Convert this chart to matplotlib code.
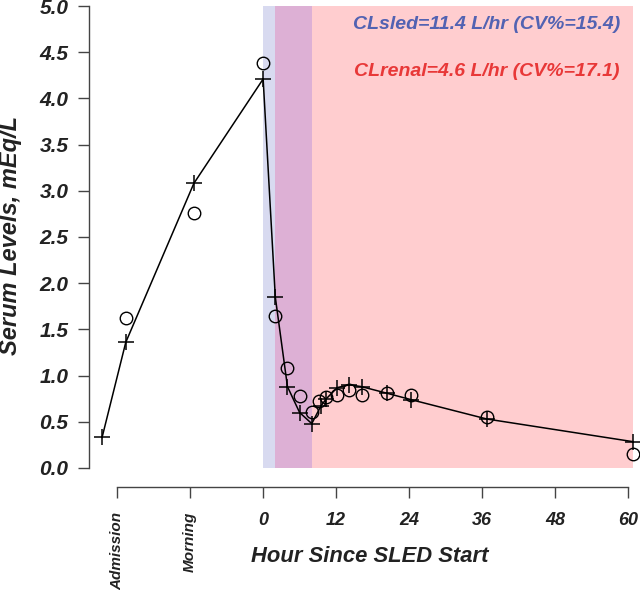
import matplotlib
matplotlib.use("Agg")
import matplotlib.pyplot as plt

# ---- data ----
pred_hours = [-26.5, -22.6, -11.4, 0, 2, 4, 6, 8, 9.5, 10.4, 12.2, 14.2, 16.2, 20.3, 24.3, 36.8, 60.8]
pred_vals = [0.33, 1.36, 3.08, 4.21, 1.85, 0.88, 0.60, 0.48, 0.67, 0.75, 0.87, 0.90, 0.88, 0.81, 0.74, 0.53, 0.285]
obs_hours = [-22.6, -11.4, 0, 2, 4, 6, 8, 9.2, 10.3, 12.2, 14.2, 16.2, 20.3, 24.3, 36.8, 60.8]
obs_vals = [1.62, 2.76, 4.38, 1.645, 1.085, 0.78, 0.61, 0.73, 0.77, 0.79, 0.84, 0.79, 0.81, 0.79, 0.55, 0.15]

sled_only = (0, 2)
sled_renal = (2, 8)
renal_only = (8, 60.8)

xtick_pos = [-24, -12, 0, 12, 24, 36, 48, 60]
xtick_labels = ["Admission", "Morning", "0", "12", "24", "36", "48", "60"]
ytick_pos = [0.0, 0.5, 1.0, 1.5, 2.0, 2.5, 3.0, 3.5, 4.0, 4.5, 5.0]

txt_sled = "CLsled=11.4 L/hr (CV%=15.4)"
txt_renal = "CLrenal=4.6 L/hr (CV%=17.1)"

FONT = "Liberation Sans"
DARK = "#222222"
W, H = 640, 590

fig = plt.figure(figsize=(6.4, 5.9), dpi=100)
ax = fig.add_axes([89.3 / W, (H - 487) / H, (W - 89.3) / W, 487 / H])
ax.set_xlim(-28.6, 62.0)
ax.set_ylim(-0.206, 5.065)

# shaded regions
ax.fill_between(sled_only, 0, 5, color="#D8DAF0", lw=0, zorder=0)
ax.fill_between(sled_renal, 0, 5, color="#DDB0D5", lw=0, zorder=0)
ax.fill_between(renal_only, 0, 5, color="#FFCDCF", lw=0, zorder=0)

ax.plot(pred_hours, pred_vals, color="black", lw=1.1, marker="+", ms=11, mew=1.1, zorder=3)
ax.plot(obs_hours, obs_vals, ls="none", marker="o", ms=9, mfc="none", mec="black", mew=1.0, zorder=4)

for s in ["top", "right"]:
    ax.spines[s].set_visible(False)
ax.spines["left"].set_bounds(0, 5)
ax.spines["bottom"].set_bounds(-24, 60)
for s in ["left", "bottom"]:
    ax.spines[s].set_color("#444444")
    ax.spines[s].set_linewidth(1.0)

ax.set_yticks(ytick_pos)
ax.set_yticklabels(["%.1f" % v for v in ytick_pos], fontsize=15, fontweight="bold",
                   fontstyle="italic", family=FONT, color=DARK)
ax.set_xticks(xtick_pos)
ax.set_xticklabels(xtick_labels, fontsize=13, fontweight="bold", fontstyle="italic",
                   family=FONT, color=DARK)
for lab in ax.get_xticklabels()[:2]:
    lab.set_rotation(90)
    lab.set_fontsize(11)
ax.tick_params(axis="both", length=8, width=1.0, color="#444444")
ax.tick_params(axis="y", pad=7)
ax.tick_params(axis="x", pad=10)

fig.text(11 / W, 1 - 235 / H, "Serum Levels, mEq/L", rotation=90, ha="center", va="center",
         fontsize=17, fontweight="bold", fontstyle="italic", family=FONT, color=DARK)
fig.text(370 / W, 1 - 556 / H, "Hour Since SLED Start", ha="center", va="center",
         fontsize=15.8, fontweight="bold", fontstyle="italic", family=FONT, color=DARK)

ax.text(58.7, 4.795, txt_sled, ha="right", va="center", fontsize=14, fontweight="bold",
        fontstyle="italic", family=FONT, color="#5262B2")
ax.text(58.7, 4.29, txt_renal, ha="right", va="center", fontsize=14, fontweight="bold",
        fontstyle="italic", family=FONT, color="#E83838")

fig.savefig("out.png", dpi=100)
